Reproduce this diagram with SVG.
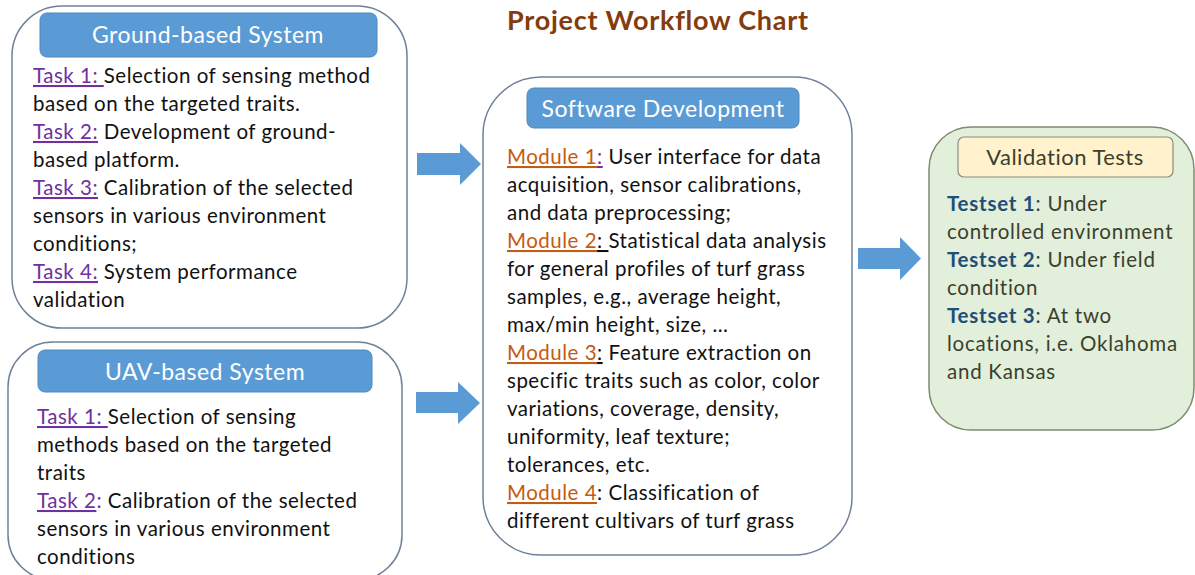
<svg xmlns="http://www.w3.org/2000/svg" width="1195" height="575" viewBox="0 0 1195 575">
  <style>
    .panel { fill: #ffffff; stroke: #6f8299; stroke-width: 1.5; }
    .panel-green { fill: #e2efda; stroke: #7d8c70; stroke-width: 1.5; }
    .hdr { fill: #5b9bd5; stroke: #4f89bf; stroke-width: 1; }
    .hdr-y { fill: #fff2cc; stroke: #8c8c80; stroke-width: 1.2; }
    .hdr-t { font-family: Lato, "Liberation Sans", sans-serif; font-size: 23px; letter-spacing: 0.5px; fill: #ffffff; text-anchor: middle; }
    .hdr-ty { font-family: Lato, "Liberation Sans", sans-serif; font-size: 22px; letter-spacing: 0.5px; fill: #3a3f2e; text-anchor: middle; }
    .body { font-family: Lato, "Liberation Sans", sans-serif; font-size: 20.5px; letter-spacing: 0.5px; fill: #111111; }
    .body-g { font-family: Lato, "Liberation Sans", sans-serif; font-size: 20.5px; letter-spacing: 0.75px; fill: #3a3f2e; }
    .task { fill: #7030a0; text-decoration: underline; }
    .mod { fill: #c55a11; text-decoration: underline; }
    .ts { fill: #1f4e79; font-weight: bold; }
    .title { font-family: Lato, "Liberation Sans", sans-serif; font-size: 27px; letter-spacing: 0.75px; font-weight: bold; fill: #843c0c; }
    .arrow { fill: #5b9bd5; }
  </style>

  <text class="title" x="507" y="30">Project Workflow Chart</text>

  <!-- Ground-based system -->
  <g id="ground">
    <rect class="panel" x="12" y="6" width="395" height="322" rx="50" ry="50"/>
    <rect class="hdr" x="40" y="13" width="337" height="44" rx="7"/>
    <text class="hdr-t" x="208" y="43">Ground-based System</text>
    <text class="body">
      <tspan x="33" y="83"><tspan class="task">Task 1: </tspan>Selection of sensing method</tspan>
      <tspan x="33" y="111">based on the targeted traits.</tspan>
      <tspan x="33" y="139"><tspan class="task">Task 2:</tspan> Development of ground-</tspan>
      <tspan x="33" y="167">based platform.</tspan>
      <tspan x="33" y="195"><tspan class="task">Task 3:</tspan> Calibration of the selected</tspan>
      <tspan x="33" y="223">sensors in various environment</tspan>
      <tspan x="33" y="251">conditions;</tspan>
      <tspan x="33" y="279"><tspan class="task">Task 4:</tspan> System performance</tspan>
      <tspan x="33" y="307">validation</tspan>
    </text>
  </g>

  <!-- UAV-based system -->
  <g id="uav">
    <rect class="panel" x="8" y="342" width="394" height="238" rx="45" ry="45"/>
    <rect class="hdr" x="38" y="350" width="334" height="42" rx="7"/>
    <text class="hdr-t" x="205" y="380">UAV-based System</text>
    <text class="body">
      <tspan x="37" y="424"><tspan class="task">Task 1: </tspan>Selection of sensing</tspan>
      <tspan x="37" y="452">methods based on the targeted</tspan>
      <tspan x="37" y="480">traits</tspan>
      <tspan x="37" y="508"><tspan class="task">Task 2</tspan><tspan fill="#7030a0">:</tspan> Calibration of the selected</tspan>
      <tspan x="37" y="536">sensors in various environment</tspan>
      <tspan x="37" y="564">conditions</tspan>
    </text>
  </g>

  <!-- Software development -->
  <g id="software">
    <rect class="panel" x="483" y="77" width="369" height="478" rx="58" ry="58"/>
    <rect class="hdr" x="527" y="88" width="272" height="40" rx="7"/>
    <text class="hdr-t" x="663" y="117">Software Development</text>
    <text class="body">
      <tspan x="507" y="164"><tspan class="mod">Module 1</tspan><tspan fill="#7030a0" text-decoration="underline">:</tspan> User interface for data</tspan>
      <tspan x="507" y="192">acquisition, sensor calibrations,</tspan>
      <tspan x="507" y="220">and data preprocessing;</tspan>
      <tspan x="507" y="248"><tspan class="mod">Module 2</tspan><tspan text-decoration="underline">: </tspan>Statistical data analysis</tspan>
      <tspan x="507" y="276">for general profiles of turf grass</tspan>
      <tspan x="507" y="304">samples, e.g., average height,</tspan>
      <tspan x="507" y="332">max/min height, size, …</tspan>
      <tspan x="507" y="360"><tspan class="mod">Module 3</tspan><tspan text-decoration="underline">:</tspan> Feature extraction on</tspan>
      <tspan x="507" y="388">specific traits such as color, color</tspan>
      <tspan x="507" y="416">variations, coverage, density,</tspan>
      <tspan x="507" y="444">uniformity, leaf texture;</tspan>
      <tspan x="507" y="472">tolerances, etc.</tspan>
      <tspan x="507" y="500"><tspan class="mod">Module 4</tspan>: Classification of</tspan>
      <tspan x="507" y="528">different cultivars of turf grass</tspan>
    </text>
  </g>

  <!-- Validation tests -->
  <g id="validation">
    <rect class="panel-green" x="929" y="127" width="265" height="303" rx="42" ry="42"/>
    <rect class="hdr-y" x="958" y="137" width="215" height="40" rx="6"/>
    <text class="hdr-ty" x="1065" y="165">Validation Tests</text>
    <text class="body-g">
      <tspan x="947" y="211"><tspan class="ts">Testset 1</tspan>: Under</tspan>
      <tspan x="947" y="239">controlled environment</tspan>
      <tspan x="947" y="267"><tspan class="ts">Testset 2</tspan>: Under field</tspan>
      <tspan x="947" y="295">condition</tspan>
      <tspan x="947" y="323"><tspan class="ts">Testset 3</tspan>: At two</tspan>
      <tspan x="947" y="351">locations, i.e. Oklahoma</tspan>
      <tspan x="947" y="379">and Kansas</tspan>
    </text>
  </g>

  <!-- Block arrows between stages -->
  <g id="connectors">
    <polygon class="arrow" points="417,153 460,153 460,143 481,164 460,185 460,175 417,175"/>
    <polygon class="arrow" points="416,392 458,392 458,382 480,403 458,424 458,413 416,413"/>
    <polygon class="arrow" points="858,248 900,248 900,237 921,258.5 900,280 900,269 858,269"/>
  </g>
</svg>
